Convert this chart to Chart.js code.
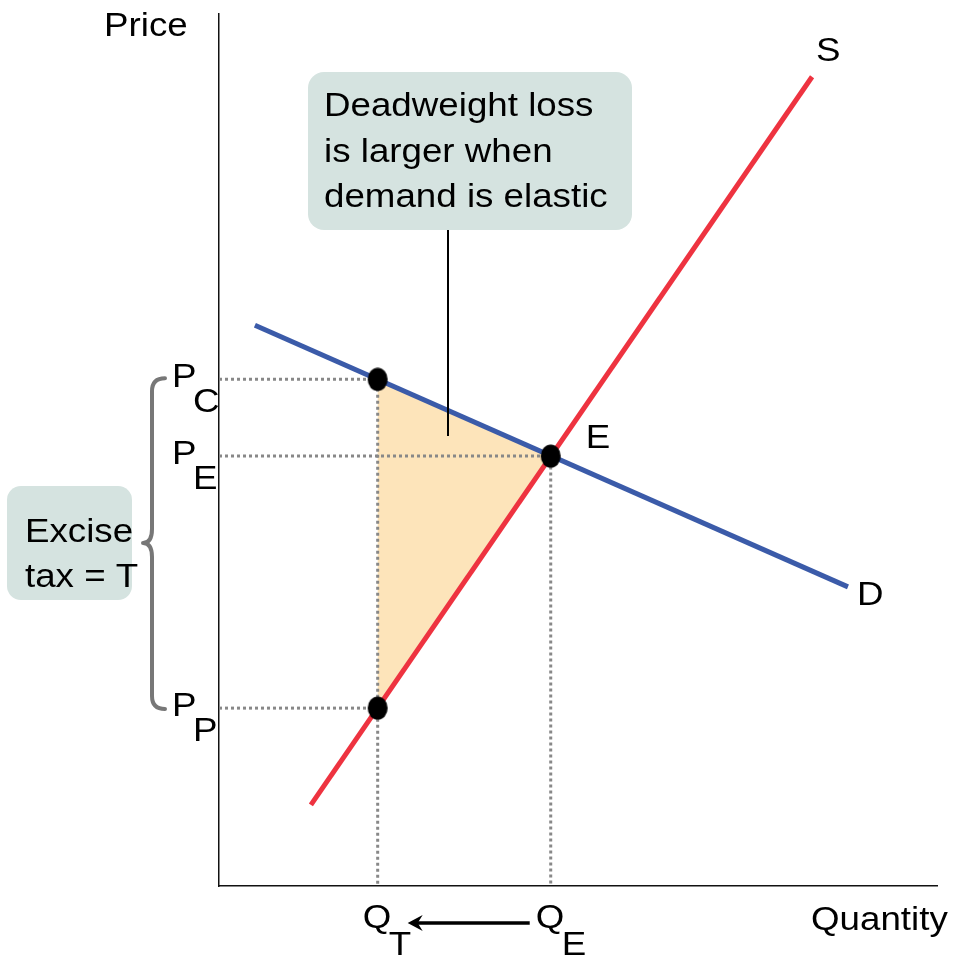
<!DOCTYPE html>
<html>
<head>
<meta charset="utf-8">
<script src="https://cdn.jsdelivr.net/npm/chart.js@4.4.1/dist/chart.umd.min.js"></script>
<style>
  html, body { margin: 0; padding: 0; background: #fff; }
  #wrap { width: 953px; height: 959px; }
</style>
</head>
<body>
<div id="wrap"><canvas id="taxChart" width="953" height="959"></canvas></div>
<script>
// demand and supply curves (endpoints, in axis units 0-100)
const demandX = [5, 87.6];
const demandY = [64.3, 34.3];
const supplyX = [12.8, 82.6];
const supplyY = [9.3, 92.8];

// quantities and prices
const qT = 22.1;
const qE = 46.2;
const pC = 58.1;
const pE = 49.3;
const pP = 20.4;

const blue = '#3b5ba9';
const red = '#ee3340';
const dotGray = '#888888';
const fontFam = '"Liberation Sans", Arial, sans-serif';
const stretch = 1.08; // text in the original is a bit wider

// oval marker for the points
const dot = document.createElement('canvas');
dot.width = 22; dot.height = 24;
const dctx = dot.getContext('2d');
dctx.fillStyle = '#000';
dctx.beginPath();
dctx.ellipse(11, 12, 10, 11.5, 0, 0, Math.PI * 2);
dctx.fill();

function pts(xs, ys) {
  return xs.map((x, i) => ({ x: x, y: ys[i] }));
}

const datasets = [
  {
    label: 'Deadweight loss',
    data: [{x: qT, y: pC}, {x: qE, y: pE}, {x: qT, y: pP}, {x: qT, y: pC}],
    borderWidth: 0,
    borderColor: 'rgba(0,0,0,0)',
    backgroundColor: '#fde4ba',
    fill: 'shape',
    pointRadius: 0,
    order: 5
  },
  {
    label: 'dots',
    data: [{x: 0, y: pC}, {x: qT, y: pC}, {x: qT, y: 0}],
    borderColor: dotGray, borderWidth: 3, borderDash: [3, 3],
    pointRadius: 0, fill: false, order: 4
  },
  {
    label: 'dots2',
    data: [{x: 0, y: pE}, {x: qE, y: pE}, {x: qE, y: 0}],
    borderColor: dotGray, borderWidth: 3, borderDash: [3, 3],
    pointRadius: 0, fill: false, order: 4
  },
  {
    label: 'dots3',
    data: [{x: 0, y: pP}, {x: qT, y: pP}],
    borderColor: dotGray, borderWidth: 3, borderDash: [3, 3],
    pointRadius: 0, fill: false, order: 4
  },
  {
    label: 'D',
    data: pts(demandX, demandY),
    borderColor: blue, borderWidth: 5, borderCapStyle: 'butt',
    pointRadius: 0, fill: false, order: 3
  },
  {
    label: 'S',
    data: pts(supplyX, supplyY),
    borderColor: red, borderWidth: 5, borderCapStyle: 'butt',
    pointRadius: 0, fill: false, order: 2
  },
  {
    label: 'points',
    data: [{x: qT, y: pC}, {x: qE, y: pE}, {x: qT, y: pP}],
    showLine: false,
    pointStyle: dot,
    pointRadius: 10,
    order: 1
  }
];

function roundBox(ctx, x, y, w, h, r, color) {
  ctx.fillStyle = color;
  ctx.beginPath();
  ctx.roundRect(x, y, w, h, r);
  ctx.fill();
}

function txt(ctx, s, x, y) {
  ctx.save();
  ctx.translate(x, y);
  ctx.scale(stretch, 1);
  ctx.fillText(s, 0, 0);
  ctx.restore();
}

const annotations = {
  id: 'annotations',
  afterDraw(chart) {
    const ctx = chart.ctx;
    const xs = chart.scales.x;
    const ys = chart.scales.y;
    ctx.save();
    ctx.fillStyle = '#000';
    ctx.textBaseline = 'alphabetic';
    ctx.textAlign = 'left';
    ctx.font = '34px ' + fontFam;

    txt(ctx, 'Price', 104, 36);
    txt(ctx, 'Quantity', 811, 930);
    txt(ctx, 'S', xs.getPixelForValue(supplyX[1]) + 4, 61);
    txt(ctx, 'D', xs.getPixelForValue(demandX[1]) + 9, 605);
    txt(ctx, 'E', xs.getPixelForValue(qE) + 35, 448);

    // price labels with subscripts
    const priceLabels = [['C', pC], ['E', pE], ['P', pP]];
    priceLabels.forEach(([sub, v]) => {
      const y = ys.getPixelForValue(v);
      txt(ctx, 'P', 172, y + 8);
      txt(ctx, sub, 193, y + 33);
    });

    // quantity labels with subscripts
    const qLabels = [['T', qT], ['E', qE]];
    qLabels.forEach(([sub, v]) => {
      const x = xs.getPixelForValue(v);
      txt(ctx, 'Q', x - 15, 928);
      txt(ctx, sub, x + 11, 955);
    });

    // arrow QE -> QT
    const ax1 = xs.getPixelForValue(qE) - 21;
    const ax2 = xs.getPixelForValue(qT) + 30;
    ctx.strokeStyle = '#000';
    ctx.lineWidth = 3.5;
    ctx.beginPath();
    ctx.moveTo(ax1, 923);
    ctx.lineTo(ax2 + 6, 923);
    ctx.stroke();
    ctx.beginPath();
    ctx.moveTo(ax2, 923);
    ctx.lineTo(ax2 + 15, 915);
    ctx.lineTo(ax2 + 10, 923);
    ctx.lineTo(ax2 + 15, 931);
    ctx.closePath();
    ctx.fill();

    // deadweight loss callout
    roundBox(ctx, 308, 72, 324, 158, 16, '#d5e3e0');
    ctx.fillStyle = '#000';
    txt(ctx, 'Deadweight loss', 324, 116);
    txt(ctx, 'is larger when', 324, 162);
    txt(ctx, 'demand is elastic', 324, 207);
    ctx.lineWidth = 2;
    ctx.beginPath();
    ctx.moveTo(448, 230);
    ctx.lineTo(448, 436);
    ctx.stroke();

    // excise tax box
    roundBox(ctx, 7, 486, 125, 114, 14, '#d5e3e0');
    ctx.fillStyle = '#000';
    txt(ctx, 'Excise', 25, 542);
    txt(ctx, 'tax = T', 25, 587);

    // brace
    const bTop = ys.getPixelForValue(pC) - 1;
    const bBot = ys.getPixelForValue(pP) + 1;
    const bMid = 543;
    ctx.strokeStyle = '#777';
    ctx.lineWidth = 4;
    ctx.lineCap = 'round';
    ctx.lineJoin = 'round';
    ctx.beginPath();
    ctx.moveTo(165, bTop);
    ctx.quadraticCurveTo(152, bTop, 152, bTop + 13);
    ctx.lineTo(152, bMid - 14);
    ctx.quadraticCurveTo(152, bMid, 143, bMid);
    ctx.quadraticCurveTo(152, bMid, 152, bMid + 14);
    ctx.lineTo(152, bBot - 13);
    ctx.quadraticCurveTo(152, bBot, 165, bBot);
    ctx.stroke();

    ctx.restore();
  }
};

new Chart(document.getElementById('taxChart'), {
  type: 'scatter',
  data: { datasets: datasets },
  options: {
    responsive: false,
    animation: false,
    showLine: true,
    layout: { padding: { left: 219, top: 14, right: 16, bottom: 73 } },
    scales: {
      x: {
        type: 'linear', min: 0, max: 100,
        grid: { display: false, drawTicks: false },
        ticks: { display: false },
        border: { display: true, color: '#111', width: 1.5 }
      },
      y: {
        type: 'linear', min: 0, max: 100,
        grid: { display: false, drawTicks: false },
        ticks: { display: false },
        border: { display: true, color: '#111', width: 1.5 }
      }
    },
    plugins: {
      legend: { display: false },
      tooltip: { enabled: false }
    }
  },
  plugins: [annotations]
});
</script>
</body>
</html>
